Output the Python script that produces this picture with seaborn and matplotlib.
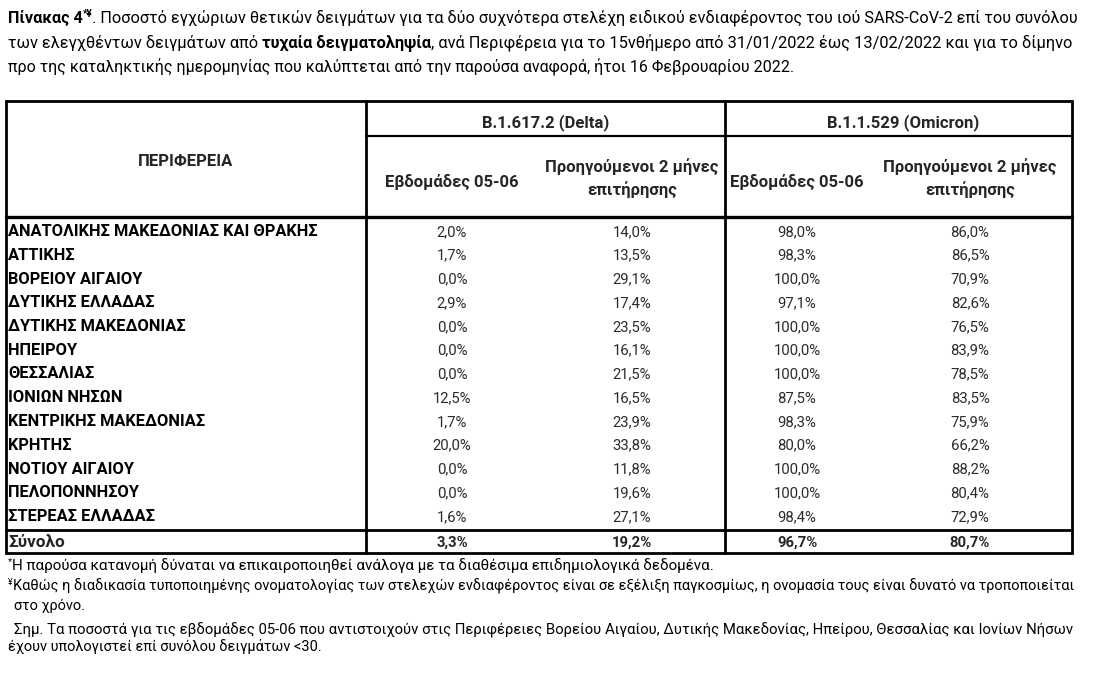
import matplotlib
matplotlib.use("Agg")
import matplotlib.pyplot as plt
import seaborn as sns

sns.set_theme(style="white")
FONT = ["Roboto", "DejaVu Sans"]
plt.rcParams["font.family"] = FONT

# ---------------- data ----------------
regions = ["ΑΝΑΤΟΛΙΚΗΣ ΜΑΚΕΔΟΝΙΑΣ ΚΑΙ ΘΡΑΚΗΣ", "ΑΤΤΙΚΗΣ", "ΒΟΡΕΙΟΥ ΑΙΓΑΙΟΥ",
           "ΔΥΤΙΚΗΣ ΕΛΛΑΔΑΣ", "ΔΥΤΙΚΗΣ ΜΑΚΕΔΟΝΙΑΣ", "ΗΠΕΙΡΟΥ", "ΘΕΣΣΑΛΙΑΣ",
           "ΙΟΝΙΩΝ ΝΗΣΩΝ", "ΚΕΝΤΡΙΚΗΣ ΜΑΚΕΔΟΝΙΑΣ", "ΚΡΗΤΗΣ", "ΝΟΤΙΟΥ ΑΙΓΑΙΟΥ",
           "ΠΕΛΟΠΟΝΝΗΣΟΥ", "ΣΤΕΡΕΑΣ ΕΛΛΑΔΑΣ"]
delta_weeks = [2.0, 1.7, 0.0, 2.9, 0.0, 0.0, 0.0, 12.5, 1.7, 20.0, 0.0, 0.0, 1.6]
delta_2months = [14.0, 13.5, 29.1, 17.4, 23.5, 16.1, 21.5, 16.5, 23.9, 33.8, 11.8, 19.6, 27.1]
omicron_weeks = [98.0, 98.3, 100.0, 97.1, 100.0, 100.0, 100.0, 87.5, 98.3, 80.0, 100.0, 100.0, 98.4]
omicron_2months = [86.0, 86.5, 70.9, 82.6, 76.5, 83.9, 78.5, 83.5, 75.9, 66.2, 88.2, 80.4, 72.9]
total_label = "Σύνολο"
totals = [3.3, 19.2, 96.7, 80.7]
variant_labels = ["B.1.617.2 (Delta)", "B.1.1.529 (Omicron)"]
sub_week_label = "Εβδομάδες 05-06"
sub_months_label = ["Προηγούμενοι 2 μήνες", "επιτήρησης"]
region_header = "ΠΕΡΙΦΕΡΕΙΑ"

title_lines = [
    [("Πίνακας 4", "bold", False, False), ("*¥", "bold", True, False),
     (". Ποσοστό εγχώριων θετικών δειγμάτων για τα δύο συχνότερα στελέχη ειδικού "
      "ενδιαφέροντος του ιού SARS-CoV-2 επί του συνόλου", "normal", False, False)],
    [("των ελεγχθέντων δειγμάτων από", "normal", False, False),
     ("τυχαία δειγματοληψία", "bold", False, True),
     (", ανά Περιφέρεια για το 15νθήμερο από 31/01/2022 έως 13/02/2022 και για το δίμηνο",
      "normal", False, False)],
    [("προ της καταληκτικής ημερομηνίας που καλύπτεται από την παρούσα αναφορά, "
      "ήτοι 16 Φεβρουαρίου 2022.", "normal", False, False)],
]
footnotes = [
    [("*", "normal", True, False),
     ("Η παρούσα κατανομή δύναται να επικαιροποιηθεί ανάλογα με τα διαθέσιμα "
      "επιδημιολογικά δεδομένα.", "normal", False, False)],
    [("¥", "normal", True, False),
     ("Καθώς η διαδικασία τυποποιημένης ονοματολογίας των στελεχών ενδιαφέροντος "
      "είναι σε εξέλιξη παγκοσμίως, η ονομασία τους είναι δυνατό να τροποποιείται",
      "normal", False, False)],
    [("στο χρόνο.", "normal", False, False)],
    [("Σημ. Τα ποσοστά για τις εβδομάδες 05-06 που αντιστοιχούν στις Περιφέρειες "
      "Βορείου Αιγαίου, Δυτικής Μακεδονίας, Ηπείρου, Θεσσαλίας και Ιονίων Νήσων",
      "normal", False, False)],
    [("έχουν υπολογιστεί επί συνόλου δειγμάτων <30.", "normal", False, False)],
]


def pct(v):
    return f"{v:.1f}%".replace(".", ",")


# ---------------- figure ----------------
fig = plt.figure(figsize=(10.99, 6.84), dpi=100)
ax = fig.add_axes([0, 0, 1, 1])
ax.set_xlim(0, 1099)
ax.set_ylim(684, 0)
ax.axis("off")
renderer = fig.canvas.get_renderer()

BLACK = "#000000"
GREY = "#2b2b2b"


def width_of(s, size, weight):
    t = ax.text(0, 0, s, fontsize=size, fontweight=weight, family=FONT)
    w = t.get_window_extent(renderer).width
    t.remove()
    return w


def fit(s, weight, target, base=10.0):
    return base * target / width_of(s, base, weight)


def runs(x, y, parts, size, color=BLACK, draw=True):
    x0 = x
    for text, weight, sup, space in parts:
        if space:
            x += width_of("x x", size, weight) - width_of("xx", size, weight)
        s = size * 0.62 if sup else size
        yy = y - 6 if sup else y
        t = ax.text(x, yy, text, fontsize=s, fontweight=weight, color=color,
                    va="baseline", ha="left", family=FONT)
        x += t.get_window_extent(renderer).width
        if not draw:
            t.remove()
    return x - x0


def fit_runs(parts, target, base=10.0):
    return base * target / runs(0, 0, parts, base, draw=False)


# ---------------- title ----------------
TS1 = fit_runs(title_lines[0], 1066)
TS2 = fit_runs(title_lines[1], 1066)
TS3 = (TS1 + TS2) / 2 * 0.985
for parts, yb, ts in zip(title_lines, [23, 48, 72], [TS1, TS2, TS3]):
    runs(8, yb, parts, ts)

# ---------------- table grid ----------------
L, R, T, B = 6, 1072, 101, 553
XC1, XC2 = 366, 725
Y_H1, Y_H2, Y_TOT = 136, 217, 530
lw = 2.0
ax.plot([L, R, R, L, L], [T, T, B, B, T], color=BLACK, lw=lw, solid_joinstyle="miter")
ax.plot([XC1, XC1], [T, B], color=BLACK, lw=lw)
ax.plot([XC2, XC2], [T, B], color=BLACK, lw=lw)
ax.plot([XC1, R], [Y_H1, Y_H1], color=BLACK, lw=1.6)
ax.plot([L, R], [Y_H2, Y_H2], color=BLACK, lw=2.4)
ax.plot([L, R], [Y_TOT, Y_TOT], color=BLACK, lw=lw)

# ---------------- headers ----------------
HS = fit(sub_months_label[0], "bold", 174)
ax.text(186, 166, region_header, fontsize=HS, fontweight="bold", ha="center", va="baseline")
for cx, lab in zip([546, 903], variant_labels):
    ax.text(cx, 127, lab, fontsize=HS, fontweight="bold", ha="center", va="baseline")
for cx in [452, 797]:
    ax.text(cx, 187, sub_week_label, fontsize=HS, fontweight="bold", ha="center", va="baseline")
for cx in [632, 970]:
    ax.text(cx, 172, sub_months_label[0], fontsize=HS, fontweight="bold", ha="center", va="baseline")
    ax.text(cx, 195, sub_months_label[1], fontsize=HS, fontweight="bold", ha="center", va="baseline")

# ---------------- body ----------------
RS = fit(regions[0], "bold", 308)
DS = fit("100,0%", "normal", 47)
col_x = [452, 632, 797, 970]
cols = [delta_weeks, delta_2months, omicron_weeks, omicron_2months]
for i, reg in enumerate(regions):
    yb = 236 + i * 23.75
    ax.text(8, yb, reg, fontsize=RS, fontweight="bold", ha="left", va="baseline", color=BLACK)
    for cx, col in zip(col_x, cols):
        ax.text(cx, yb, pct(col[i]), fontsize=DS, ha="center", va="baseline", color=GREY)

ax.text(8, 547, total_label, fontsize=RS * 1.05, fontweight="bold", ha="left", va="baseline")
for cx, v in zip(col_x, totals):
    ax.text(cx, 547, pct(v), fontsize=DS, fontweight="bold", ha="center", va="baseline")

# ---------------- footnotes ----------------
FS2 = fit_runs(footnotes[1], 1060)
fn_sizes = [fit_runs(footnotes[0], 702), FS2, FS2, fit_runs(footnotes[3], 1056), FS2]
for parts, (x, yb), fs in zip(footnotes, [(8, 570), (8, 591), (14, 610), (14, 634), (8, 651)],
                              fn_sizes):
    runs(x, yb, parts, fs)

fig.savefig("out.png", dpi=100, facecolor="white")
